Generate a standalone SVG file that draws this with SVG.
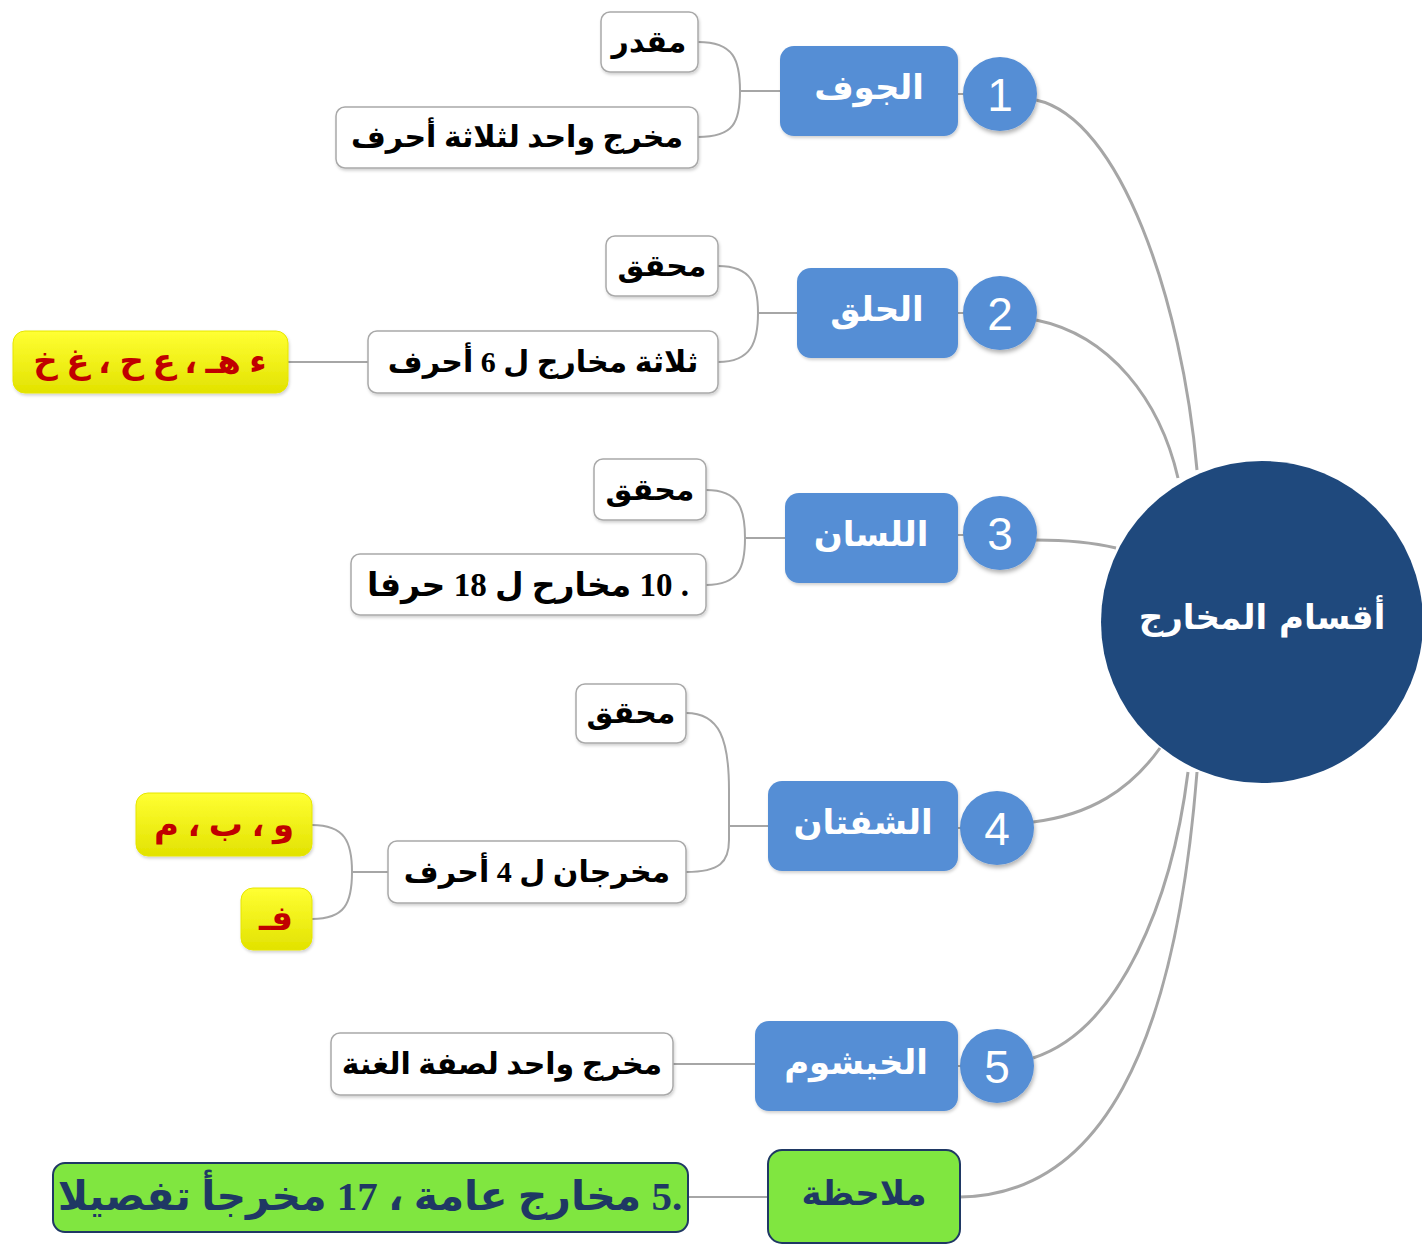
<svg xmlns="http://www.w3.org/2000/svg" width="1422" height="1245" viewBox="0 0 1422 1245">
<defs>
<filter id="sh" x="-20%" y="-20%" width="140%" height="150%">
<feDropShadow dx="1" dy="3" stdDeviation="2" flood-color="#000" flood-opacity="0.3"/>
</filter>
<filter id="sh2" x="-10%" y="-20%" width="120%" height="150%">
<feDropShadow dx="1" dy="2" stdDeviation="1.5" flood-color="#000" flood-opacity="0.18"/>
</filter>
<linearGradient id="yel" x1="0" y1="0" x2="0" y2="1">
<stop offset="0" stop-color="#ffff33"/>
<stop offset="1" stop-color="#e2e200"/>
</linearGradient>
</defs>
<style>
.con{fill:none;stroke:#a6a6a6;stroke-width:2}
.main{fill:none;stroke:#a6a6a6;stroke-width:3}
.num{fill:#558ed5;filter:url(#sh)}
.numt{font-family:'Liberation Sans',Arial,sans-serif;font-size:46px;fill:#fff;text-anchor:middle}
.blue{fill:#558ed5;filter:url(#sh2)}
.bt{font-family:'DejaVu Sans','Liberation Sans',sans-serif;font-weight:bold;font-size:34px;fill:#fff;text-anchor:middle;direction:rtl}
.wb{fill:#fff;stroke:#a9a9a9;stroke-width:1.5;filter:url(#sh2)}
.wt{font-family:'Liberation Serif','DejaVu Sans',serif;font-weight:bold;font-size:30px;fill:#000;text-anchor:middle;direction:rtl}
.yb{fill:url(#yel);stroke:#e6e600;stroke-width:1;filter:url(#sh2)}
.yt{font-family:'Liberation Serif','DejaVu Sans',serif;font-weight:bold;font-size:34px;fill:#c00000;text-anchor:middle;direction:rtl}
.gb{fill:#80e640;stroke:#1f3864;stroke-width:2}
.gt{font-family:'Liberation Serif','DejaVu Sans',serif;font-weight:bold;font-size:34px;fill:#1f3864;text-anchor:middle;direction:rtl}
.ct{font-family:'DejaVu Sans','Liberation Sans',sans-serif;font-weight:bold;font-size:34px;fill:#fff;text-anchor:middle;direction:rtl}
</style>
<rect width="1422" height="1245" fill="#fff"/>

<g id="connectors">
<path class="main" d="M1036,100 C1120,118 1182,300 1197,470"/>
<path class="main" d="M1036,320 C1110,335 1160,400 1178,478"/>
<path class="main" d="M1036,540 C1070,540 1095,543 1116,548"/>
<path class="main" d="M1033,822 C1090,815 1130,790 1160,748"/>
<path class="main" d="M1033,1058 C1120,1030 1172,900 1188,772"/>
<path class="main" d="M960,1197 C1100,1195 1175,1050 1197,772"/>
<path class="con" d="M958,94 H964 M958,313 H964 M958,535 H964 M958,828 H962 M958,1066 H962"/>
<path class="con" d="M698,42 C734,42 740,60 740,91 C740,122 734,137 698,137 M740,91 H780"/>
<path class="con" d="M718,266 C752,266 758,285 758,313 C758,341 752,362 718,362 M758,313 H797 M368,362 H288"/>
<path class="con" d="M706,490 C740,490 745,510 745,538 C745,566 740,585 706,585 M745,538 H785"/>
<path class="con" d="M686,713 C720,713 729,740 729,790 L729,840 C729,862 720,872 686,872 M729,826 H768"/>
<path class="con" d="M388,872 H352 M312,825 C345,825 352,842 352,872 C352,903 345,919 312,919"/>
<path class="con" d="M673,1064 H755"/>
<path class="con" d="M688,1197 H768"/>
</g>

<g id="center">
<circle cx="1262" cy="622" r="161" fill="#1f497d"/>
<text class="ct" x="1262" y="629">أقسام المخارج</text>
</g>

<g id="n1"><circle class="num" cx="1000" cy="94" r="37"/><text class="numt" x="1000" y="111">1</text></g>
<g id="n2"><circle class="num" cx="1000" cy="313" r="37"/><text class="numt" x="1000" y="330">2</text></g>
<g id="n3"><circle class="num" cx="1000" cy="533" r="37"/><text class="numt" x="1000" y="550">3</text></g>
<g id="n4"><circle class="num" cx="997" cy="828" r="37"/><text class="numt" x="997" y="845">4</text></g>
<g id="n5"><circle class="num" cx="997" cy="1066" r="37"/><text class="numt" x="997" y="1083">5</text></g>

<g id="b1"><rect class="blue" x="780" y="46" width="178" height="90" rx="14"/><text class="bt" x="869" y="99">الجوف</text></g>
<g id="b2"><rect class="blue" x="797" y="268" width="161" height="90" rx="14"/><text class="bt" x="877" y="321">الحلق</text></g>
<g id="b3"><rect class="blue" x="785" y="493" width="173" height="90" rx="14"/><text class="bt" x="871" y="546">اللسان</text></g>
<g id="b4"><rect class="blue" x="768" y="781" width="190" height="90" rx="14"/><text class="bt" x="863" y="834">الشفتان</text></g>
<g id="b5"><rect class="blue" x="755" y="1021" width="203" height="90" rx="14"/><text class="bt" x="856" y="1074">الخيشوم</text></g>
<g id="note"><rect class="gb" x="768" y="1150" width="192" height="93" rx="14"/><text class="gt" x="864" y="1205">ملاحظة</text></g>

<g id="w1a"><rect class="wb" x="601" y="12" width="97" height="60" rx="9"/><text class="wt" x="649" y="52">مقدر</text></g>
<g id="w1b"><rect class="wb" x="336" y="107" width="362" height="61" rx="9"/><text class="wt" x="517" y="147">مخرج واحد لثلاثة أحرف</text></g>
<g id="w2a"><rect class="wb" x="606" y="236" width="112" height="60" rx="9"/><text class="wt" x="662" y="276">محقق</text></g>
<g id="w2b"><rect class="wb" x="368" y="331" width="350" height="62" rx="9"/><text class="wt" x="543" y="372">ثلاثة مخارج ل 6 أحرف</text></g>
<g id="y2"><rect class="yb" x="13" y="331" width="275" height="62" rx="12"/><text class="yt" x="150" y="373">ء هـ ، ع ح ، غ خ</text></g>
<g id="w3a"><rect class="wb" x="594" y="459" width="112" height="61" rx="9"/><text class="wt" x="650" y="500">محقق</text></g>
<g id="w3b"><rect class="wb" x="351" y="554" width="355" height="61" rx="9"/><text class="wt" x="528" y="596" style="font-size:33px">. 10 مخارح ل 18 حرفا</text></g>
<g id="w4a"><rect class="wb" x="576" y="684" width="110" height="59" rx="9"/><text class="wt" x="631" y="723">محقق</text></g>
<g id="w4b"><rect class="wb" x="388" y="841" width="298" height="62" rx="9"/><text class="wt" x="537" y="882">مخرجان ل 4 أحرف</text></g>
<g id="y4a"><rect class="yb" x="136" y="793" width="176" height="63" rx="12"/><text class="yt" x="224" y="836">و ، ب ، م</text></g>
<g id="y4b"><rect class="yb" x="241" y="888" width="71" height="62" rx="12"/><text class="yt" x="276" y="930">فـ</text></g>
<g id="w5"><rect class="wb" x="331" y="1033" width="342" height="62" rx="9"/><text class="wt" x="502" y="1074">مخرج واحد لصفة الغنة</text></g>
<g id="g6"><rect class="gb" x="53" y="1163" width="635" height="69" rx="12"/><text class="gt" x="370" y="1210" style="font-size:41px">.5 مخارج عامة ، 17 مخرجأ تفصيلا</text></g>
</svg>
